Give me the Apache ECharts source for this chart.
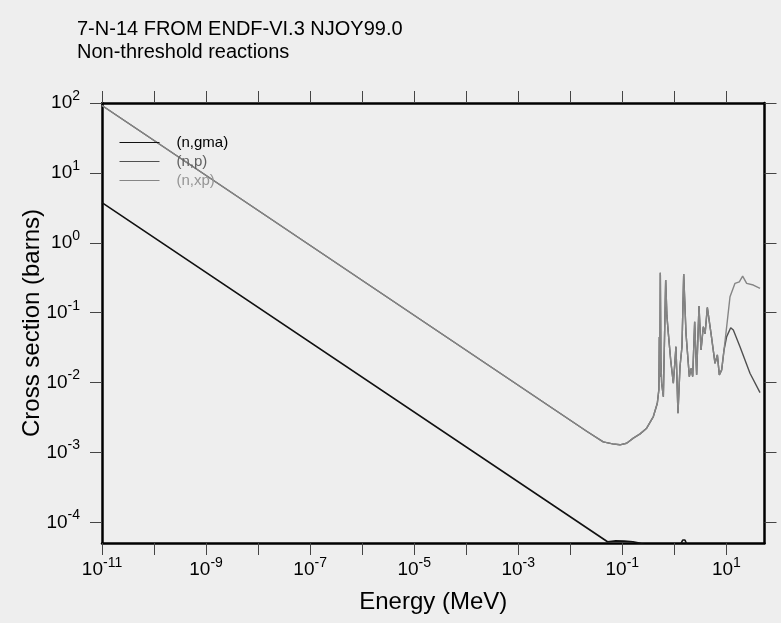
<!DOCTYPE html>
<html>
<head>
<meta charset="utf-8">
<script src="https://cdn.jsdelivr.net/npm/echarts@6/dist/echarts.min.js"></script>
<style>
  html, body { margin: 0; padding: 0; background: #eeeeee; }
  #chart { width: 781px; height: 623px; }
</style>
</head>
<body>
<div id="chart"></div>
<script>
// 7-N-14 cross sections, energies in MeV, cross sections in barns

// (n,gma) radiative capture
const gmaEnergy = [1e-11, 0.052, 0.075, 0.11, 0.16, 0.2, 0.3, 1.3, 1.45, 1.6, 1.75, 3.0];
const gmaXs     = [3.75, 5.3e-5, 5.45e-5, 5.4e-5, 5.3e-5, 5.1e-5, 4.7e-5, 4.8e-5, 5.6e-5, 5.6e-5, 4.8e-5, 4.0e-5];

// (n,p) proton emission
const npEnergy = [1e-11, 0.021, 0.043, 0.065, 0.09, 0.121, 0.163, 0.22, 0.294, 0.395, 0.471, 0.505,
                  0.515, 0.527, 0.538, 0.552, 0.571, 0.615, 0.682, 0.72, 0.767, 0.851, 0.957, 1.076,
                  1.175, 1.285, 1.403, 1.514, 1.675, 1.941, 2.1, 2.254, 2.46, 2.685, 2.979, 3.258,
                  3.606, 3.9, 4.305, 5.07, 6.053, 6.714, 7.328, 8.128, 9.016,
                  10.14, 12.11, 13.61, 18.28, 28.44, 44.36];
const npXs     = [92, 2.0e-3, 1.42e-3, 1.33e-3, 1.29e-3, 1.36e-3, 1.61e-3, 1.85e-3, 2.23e-3, 3.27e-3, 5.07e-3, 8.0e-3,
                  0.045, 0.012, 0.373, 0.02, 9.8e-3, 6.3e-3, 0.293, 0.09, 0.0507, 0.0211, 9.8e-3, 0.0327,
                  3.65e-3, 0.0169, 0.0327, 0.357, 0.0507, 0.0122, 0.016, 0.0122, 0.0745, 0.0129, 0.125, 0.0293,
                  0.0631, 0.05, 0.119, 0.0507, 0.0189, 0.0249, 0.0129, 0.0152, 0.0293,
                  0.0455, 0.0611, 0.0566, 0.0327, 0.0136, 0.0072];

// (n,xp) total proton production
const nxpEnergy = [1e-11, 0.021, 0.043, 0.065, 0.09, 0.121, 0.163, 0.22, 0.294, 0.395, 0.471, 0.505,
                   0.515, 0.527, 0.538, 0.552, 0.571, 0.615, 0.682, 0.72, 0.767, 0.851, 0.957, 1.076,
                   1.175, 1.285, 1.403, 1.514, 1.675, 1.941, 2.1, 2.254, 2.46, 2.685, 2.979, 3.258,
                   3.606, 3.9, 4.305, 5.07, 6.053, 6.714, 7.328, 8.128, 9.016,
                   10.14, 11.75, 14.66, 17.74, 20.56, 24.55, 32.96, 44.36];
const nxpXs     = [92, 2.0e-3, 1.42e-3, 1.33e-3, 1.29e-3, 1.36e-3, 1.61e-3, 1.85e-3, 2.23e-3, 3.27e-3, 5.07e-3, 8.0e-3,
                   0.045, 0.012, 0.373, 0.02, 9.8e-3, 6.3e-3, 0.293, 0.09, 0.0507, 0.0211, 9.8e-3, 0.0327,
                   3.65e-3, 0.0169, 0.0327, 0.357, 0.0507, 0.0122, 0.016, 0.0122, 0.0745, 0.0129, 0.125, 0.0293,
                   0.0631, 0.05, 0.119, 0.0507, 0.0189, 0.0249, 0.0129, 0.0152, 0.0293,
                   0.0631, 0.169, 0.263, 0.277, 0.334, 0.263, 0.249, 0.223];

// Decade exponents for ticks and labels
const xTickExps  = [-11, -10, -9, -8, -7, -6, -5, -4, -3, -2, -1, 0, 1];
const xLabelExps = [-11, -9, -7, -5, -3, -1, 1];
const yTickExps  = [-4, -3, -2, -1, 0, 1, 2];

// Axis extents in decades
const xRange = [-11, 1.733];
const yRange = [-4.294, 2];

const seriesNames = ['(n,gma)', '(n,p)', '(n,xp)'];

function toLogPairs(energy, xs) {
  return energy.map((e, i) => [Math.log10(e), Math.log10(xs[i])]);
}

const FONT = '"Liberation Sans", Arial, Helvetica, sans-serif';

const powRich = {
  b: { fontSize: 19, lineHeight: 28, verticalAlign: 'middle', color: '#000', fontFamily: FONT },
  s: { fontSize: 14, lineHeight: 14, verticalAlign: 'top', color: '#000', fontFamily: FONT }
};
const powFormatter = v => '{b|10}{s|' + Math.round(v) + '}';

function xAxisDef(position, main) {
  return {
    type: 'value',
    position: position,
    min: xRange[0],
    max: xRange[1],
    axisLine: { show: true, onZero: false, lineStyle: { color: '#000', width: 2.5 } },
    axisTick: { show: true, inside: false, length: 12, customValues: xTickExps,
                lineStyle: { color: '#444', width: 1 } },
    axisLabel: { show: main, customValues: xLabelExps, formatter: powFormatter,
                 margin: 13, rich: powRich },
    splitLine: { show: false },
    name: main ? 'Energy (MeV)' : '',
    nameLocation: 'middle',
    nameGap: 47,
    nameMoveOverlap: false,
    nameTextStyle: { fontSize: 24, color: '#000', fontFamily: FONT }
  };
}

function yAxisDef(position, main) {
  return {
    type: 'value',
    position: position,
    min: yRange[0],
    max: yRange[1],
    axisLine: { show: true, onZero: false, lineStyle: { color: '#000', width: 2.5 } },
    axisTick: { show: true, inside: false, length: 12, customValues: yTickExps,
                lineStyle: { color: '#444', width: 1 } },
    axisLabel: { show: main, customValues: yTickExps, formatter: powFormatter,
                 margin: 22, rich: powRich },
    splitLine: { show: false },
    name: main ? 'Cross section (barns)' : '',
    nameLocation: 'middle',
    nameRotate: 90,
    nameGap: 58,
    nameMoveOverlap: false,
    nameTextStyle: { fontSize: 24, color: '#000', fontFamily: FONT }
  };
}

const chart = echarts.init(document.getElementById('chart'), null, { renderer: 'canvas' });

chart.setOption({
  animation: false,
  backgroundColor: '#eeeeee',
  textStyle: { fontFamily: FONT },
  title: {
    text: '7-N-14 FROM ENDF-VI.3 NJOY99.0\nNon-threshold reactions',
    left: 77,
    top: 18,
    padding: 0,
    textStyle: { fontSize: 20, lineHeight: 23, fontWeight: 'normal', color: '#000', fontFamily: FONT }
  },
  grid: { left: 102, right: 16.5, top: 103, bottom: 80, containLabel: false },
  legend: {
    orient: 'vertical',
    left: 119,
    top: 135,
    padding: 0,
    itemWidth: 40,
    itemHeight: 14,
    itemGap: 4,
    selectedMode: false,
    lineStyle: { width: 1 },
    itemStyle: { opacity: 0 },
    textStyle: { fontSize: 15, fontFamily: FONT, padding: [0, 0, 0, 12] },
    data: [
      { name: seriesNames[0], textStyle: { color: '#000000' } },
      { name: seriesNames[1], textStyle: { color: '#606060' } },
      { name: seriesNames[2], textStyle: { color: '#959595' } }
    ]
  },
  xAxis: [xAxisDef('bottom', true), xAxisDef('top', false)],
  yAxis: [yAxisDef('left', true), yAxisDef('right', false)],
  series: [
    {
      name: seriesNames[0], type: 'line', xAxisIndex: 0, yAxisIndex: 0,
      data: toLogPairs(gmaEnergy, gmaXs), symbol: 'none', clip: true,
      lineStyle: { color: '#111111', width: 1.6 }, itemStyle: { color: '#111111' }
    },
    {
      name: seriesNames[1], type: 'line', xAxisIndex: 0, yAxisIndex: 0,
      data: toLogPairs(npEnergy, npXs), symbol: 'none', clip: true,
      lineStyle: { color: '#505050', width: 1.4 }, itemStyle: { color: '#505050' }
    },
    {
      name: seriesNames[2], type: 'line', xAxisIndex: 0, yAxisIndex: 0,
      data: toLogPairs(nxpEnergy, nxpXs), symbol: 'none', clip: true,
      lineStyle: { color: '#858585', width: 1.4 }, itemStyle: { color: '#858585' }
    }
  ]
});
</script>
</body>
</html>
